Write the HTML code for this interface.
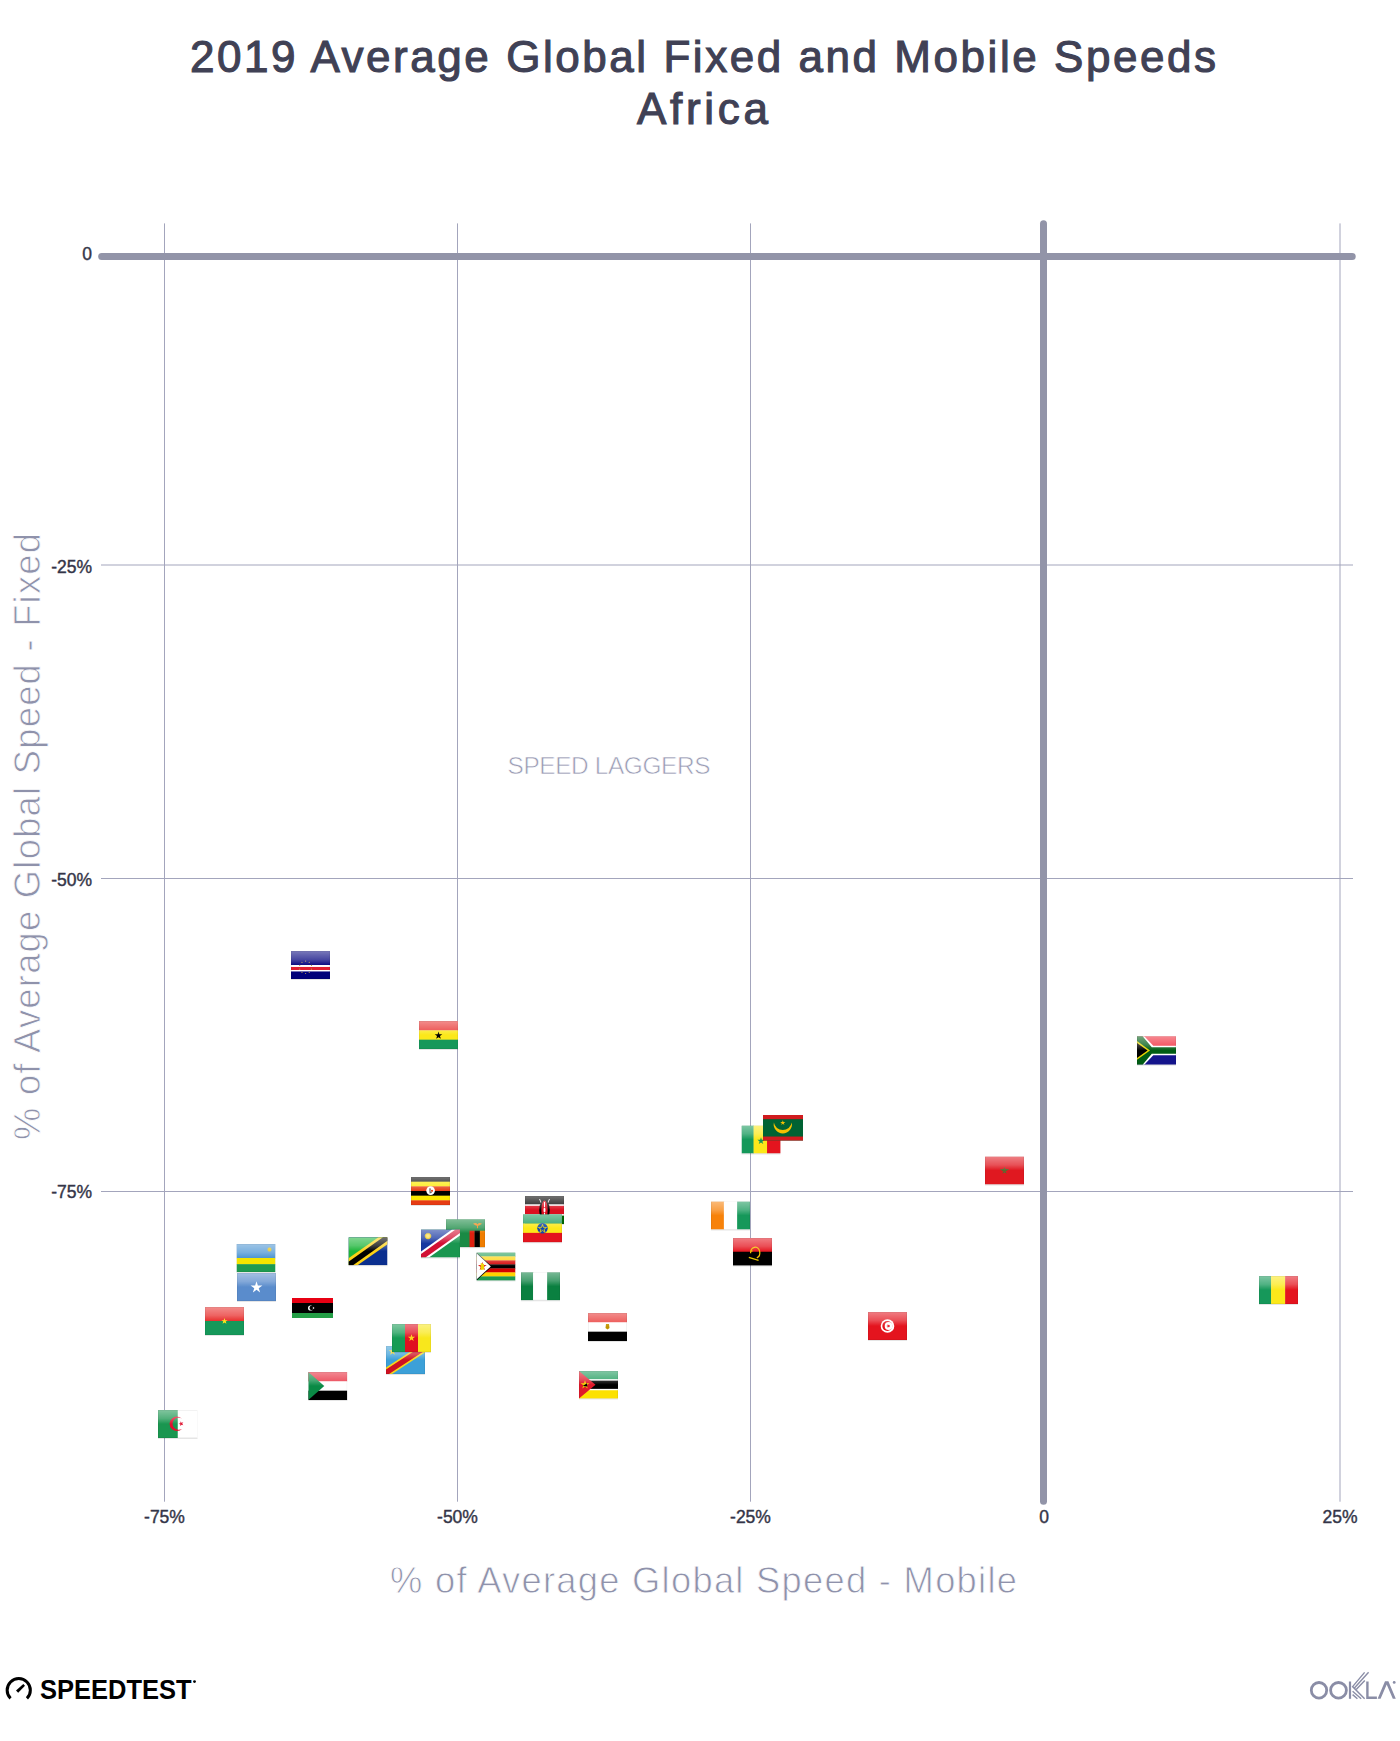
<!DOCTYPE html>
<html><head><meta charset="utf-8">
<style>
html,body{margin:0;padding:0;background:#fff;width:1400px;height:1741px;overflow:hidden}
svg{position:absolute;left:0;top:0}
text{font-family:"Liberation Sans",sans-serif}
</style></head>
<body>
<svg width="1400" height="1741" viewBox="0 0 1400 1741">
<defs>
<linearGradient id="gl" x1="0" y1="0" x2="0" y2="1">
<stop offset="0" stop-color="#fff" stop-opacity="0.45"/>
<stop offset="0.3" stop-color="#fff" stop-opacity="0.25"/>
<stop offset="0.5" stop-color="#fff" stop-opacity="0"/>
<stop offset="1" stop-color="#fff" stop-opacity="0"/>
</linearGradient>
</defs>
<!-- title -->
<text x="190" y="71.6" font-size="44" fill="#404155" textLength="1026" lengthAdjust="spacing" style="stroke:#404155;stroke-width:1.1">2019 Average Global Fixed and Mobile Speeds</text>
<text x="637" y="124" font-size="44" fill="#404155" textLength="131" lengthAdjust="spacing" style="stroke:#404155;stroke-width:1.1">Africa</text>

<!-- grid -->
<g stroke="#a3a5bc" stroke-width="1" fill="none">
<line x1="164.5" y1="223.4" x2="164.5" y2="1501.7"/>
<line x1="457.5" y1="223.4" x2="457.5" y2="1501.7"/>
<line x1="750.5" y1="223.4" x2="750.5" y2="1501.7"/>
<line x1="1340" y1="223.4" x2="1340" y2="1501.7"/>
<line x1="101" y1="565" x2="1353" y2="565"/>
<line x1="101" y1="878.5" x2="1353" y2="878.5"/>
<line x1="101" y1="1191.5" x2="1353" y2="1191.5"/>
</g>
<g stroke="#9294a8" stroke-width="7" stroke-linecap="round">
<line x1="101.7" y1="256.4" x2="1352.2" y2="256.4"/>
<line x1="1043.5" y1="223.7" x2="1043.5" y2="1501.3"/>
</g>

<!-- tick labels -->
<g font-size="17.5" fill="#343548" text-anchor="end" style="stroke:#343548;stroke-width:0.4">
<text x="92" y="260">0</text>
<text x="92" y="572.8">-25%</text>
<text x="92" y="885.8">-50%</text>
<text x="92" y="1198.3">-75%</text>
</g>
<g font-size="17.5" fill="#343548" text-anchor="middle" style="stroke:#343548;stroke-width:0.4">
<text x="164.5" y="1522.7">-75%</text>
<text x="457.5" y="1522.7">-50%</text>
<text x="750.5" y="1522.7">-25%</text>
<text x="1044" y="1522.7">0</text>
<text x="1340" y="1522.7">25%</text>
</g>

<!-- axis titles -->
<text x="390" y="1593.4" font-size="36.3" fill="#8f92ab" textLength="627" lengthAdjust="spacing" style="stroke:#fff;stroke-width:0.8">% of Average Global Speed - Mobile</text>
<text transform="translate(39.8,1140) rotate(-90)" x="0" y="0" font-size="36.3" fill="#8f92ab" textLength="607" lengthAdjust="spacing" style="stroke:#fff;stroke-width:0.8">% of Average Global Speed - Fixed</text>
<text x="507.5" y="774.4" font-size="24.4" fill="#9a9cb4" textLength="203" lengthAdjust="spacing" style="stroke:#fff;stroke-width:0.6">SPEED LAGGERS</text>

<!-- FLAGS -->
<g id="flags">
<rect x="291" y="978.7" width="39" height="1.3" fill="#000" opacity="0.10"/><svg x="291" y="951" width="39" height="28" viewBox="0 0 39 28" preserveAspectRatio="none"><rect x="0" y="0.00" width="39" height="14.30" fill="#0c0c82"/><rect x="0" y="14.00" width="39" height="2.26" fill="#ffffff"/><rect x="0" y="15.96" width="39" height="3.38" fill="#e02030"/><rect x="0" y="19.04" width="39" height="1.70" fill="#ffffff"/><rect x="0" y="20.44" width="39" height="7.86" fill="#00007a"/><circle cx="14.60" cy="22.50" r="0.6" fill="#b8a050"/><circle cx="10.96" cy="21.32" r="0.6" fill="#b8a050"/><circle cx="8.70" cy="18.22" r="0.6" fill="#b8a050"/><circle cx="8.70" cy="14.38" r="0.6" fill="#b8a050"/><circle cx="10.96" cy="11.28" r="0.6" fill="#b8a050"/><circle cx="14.60" cy="10.10" r="0.6" fill="#b8a050"/><circle cx="18.24" cy="11.28" r="0.6" fill="#b8a050"/><circle cx="20.50" cy="14.38" r="0.6" fill="#b8a050"/><circle cx="20.50" cy="18.22" r="0.6" fill="#b8a050"/><circle cx="18.24" cy="21.32" r="0.6" fill="#b8a050"/><rect width="100%" height="100%" fill="url(#gl)"/><rect x="0.25" y="0.25" width="38.5" height="27.5" fill="none" stroke="#000" stroke-opacity="0.10" stroke-width="0.5"/></svg>
<rect x="419" y="1048.7" width="39" height="1.3" fill="#000" opacity="0.10"/><svg x="419" y="1021" width="39" height="28" viewBox="0 0 39 28" preserveAspectRatio="none"><rect x="0" y="0.00" width="39" height="9.63" fill="#e8302e"/><rect x="0" y="9.33" width="39" height="9.63" fill="#fce81a"/><rect x="0" y="18.67" width="39" height="9.63" fill="#16985a"/><polygon points="19.50,10.60 20.40,13.36 23.30,13.36 20.95,15.07 21.85,17.84 19.50,16.13 17.15,17.84 18.05,15.07 15.70,13.36 18.60,13.36" fill="#000"/><rect width="100%" height="100%" fill="url(#gl)"/><rect x="0.25" y="0.25" width="38.5" height="27.5" fill="none" stroke="#000" stroke-opacity="0.10" stroke-width="0.5"/></svg>
<rect x="1137" y="1064.4" width="39" height="1.3" fill="#000" opacity="0.10"/><svg x="1137" y="1036.2" width="39" height="28.5" viewBox="0 0 39 28" preserveAspectRatio="none"><rect width="39" height="14" fill="#f02838"/><rect y="14" width="39" height="14" fill="#14148c"/><path d="M0,0 L7.3,0 L16.3,9.3 L39,9.3 L39,18.7 L16.3,18.7 L7.3,28 L0,28 Z" fill="#fff"/><path d="M0,0 L5.6,0 L14.8,10.8 L39,10.8 L39,17.2 L14.8,17.2 L5.6,28 L0,28 Z" fill="#005c14"/><path d="M0,4.8 L13,14 L0,23.2 Z" fill="#e8d400"/><path d="M0,6.6 L10.6,14 L0,21.4 Z" fill="#000"/><rect width="100%" height="100%" fill="url(#gl)"/><rect x="0.25" y="0.25" width="38.5" height="27.5" fill="none" stroke="#000" stroke-opacity="0.10" stroke-width="0.5"/></svg>
<rect x="741.5" y="1153.2" width="39" height="1.3" fill="#000" opacity="0.10"/><svg x="741.5" y="1125.5" width="39" height="28" viewBox="0 0 39 28" preserveAspectRatio="none"><rect x="0.00" y="0" width="12.39" height="28" fill="#14985a"/><rect x="12.09" y="0" width="13.75" height="28" fill="#fce81a"/><rect x="25.54" y="0" width="13.75" height="28" fill="#e4141e"/><polygon points="19.50,11.70 20.35,14.33 23.11,14.33 20.88,15.95 21.73,18.57 19.50,16.95 17.27,18.57 18.12,15.95 15.89,14.33 18.65,14.33" fill="#14985a"/><rect width="100%" height="100%" fill="url(#gl)"/><rect x="0.25" y="0.25" width="38.5" height="27.5" fill="none" stroke="#000" stroke-opacity="0.10" stroke-width="0.5"/></svg>
<svg x="763" y="1115" width="40" height="25.7" viewBox="0 0 40 26" preserveAspectRatio="none"><rect width="40" height="26" fill="#006233"/><rect width="40" height="4.2" fill="#d01c1f"/><rect y="21.8" width="40" height="4.2" fill="#d01c1f"/><path d="M10.9,7.63 A9.1,9.1 0 1 0 28.7,7.63 A9,9 0 0 1 10.9,7.63 Z" fill="#f4c000"/><polygon points="19.80,5.20 20.41,7.07 22.37,7.07 20.78,8.22 21.39,10.08 19.80,8.93 18.21,10.08 18.82,8.22 17.23,7.07 19.19,7.07" fill="#f4c000"/></svg>
<rect x="985" y="1184.2" width="39" height="1.3" fill="#000" opacity="0.10"/><svg x="985" y="1156.5" width="39" height="28" viewBox="0 0 39 28" preserveAspectRatio="none"><rect width="39" height="28" fill="#e01820"/><polygon points="19.5,11 20.6,16 16.4,13 22.6,13 18.4,16" fill="none" stroke="#5a6a30" stroke-width="1.1"/><rect width="100%" height="100%" fill="url(#gl)"/><rect x="0.25" y="0.25" width="38.5" height="27.5" fill="none" stroke="#000" stroke-opacity="0.10" stroke-width="0.5"/></svg>
<rect x="411" y="1204.7" width="39" height="1.3" fill="#000" opacity="0.10"/><svg x="411" y="1177" width="39" height="28" viewBox="0 0 39 28" preserveAspectRatio="none"><rect x="0" y="0.00" width="39" height="4.97" fill="#000"/><rect x="0" y="4.67" width="39" height="4.97" fill="#fce800"/><rect x="0" y="9.33" width="39" height="4.97" fill="#e63c14"/><rect x="0" y="14.00" width="39" height="4.97" fill="#000"/><rect x="0" y="18.67" width="39" height="4.97" fill="#fce800"/><rect x="0" y="23.33" width="39" height="4.97" fill="#e63c14"/><circle cx="19.6" cy="13.6" r="4.3" fill="#fff"/><path d="M18.2,11.2 l1.8,0.4 l-0.6,2.6 l1.8,1.6 l-2.6,0.6 z" fill="#6a6a6a"/><circle cx="21" cy="13.8" r="1.1" fill="#e63c14"/><rect width="100%" height="100%" fill="url(#gl)"/><rect x="0.25" y="0.25" width="38.5" height="27.5" fill="none" stroke="#000" stroke-opacity="0.10" stroke-width="0.5"/></svg>
<rect x="525" y="1223.7" width="39" height="1.3" fill="#000" opacity="0.10"/><svg x="525" y="1196" width="39" height="28" viewBox="0 0 39 28" preserveAspectRatio="none"><rect x="0" y="0.00" width="39" height="8.70" fill="#000"/><rect x="0" y="8.40" width="39" height="1.70" fill="#fff"/><rect x="0" y="9.80" width="39" height="8.70" fill="#dc1020"/><rect x="0" y="18.20" width="39" height="1.70" fill="#fff"/><rect x="0" y="19.60" width="39" height="8.70" fill="#006600"/><path d="M14.5,3 L24.5,25" stroke="#fff" stroke-width="0.9"/><path d="M24.5,3 L14.5,25" stroke="#fff" stroke-width="0.9"/><ellipse cx="19.5" cy="14" rx="5.3" ry="9.8" fill="#000"/><ellipse cx="19.5" cy="14" rx="3.2" ry="9.6" fill="#dc1020"/><ellipse cx="19.5" cy="14" rx="1" ry="2.6" fill="#fff"/><rect x="19" y="6" width="1" height="5" fill="#fff"/><rect x="19" y="17" width="1" height="5" fill="#fff"/><rect width="100%" height="100%" fill="url(#gl)"/><rect x="0.25" y="0.25" width="38.5" height="27.5" fill="none" stroke="#000" stroke-opacity="0.10" stroke-width="0.5"/></svg>
<rect x="523" y="1241.9" width="39" height="1.3" fill="#000" opacity="0.10"/><svg x="523" y="1214.2" width="39" height="28" viewBox="0 0 39 28" preserveAspectRatio="none"><rect x="0" y="0.00" width="39" height="9.63" fill="#16985a"/><rect x="0" y="9.33" width="39" height="9.63" fill="#fce81a"/><rect x="0" y="18.67" width="39" height="9.63" fill="#e4141e"/><circle cx="19.5" cy="14" r="5.2" fill="#0f47af"/><polygon points="19.50,10.70 20.31,13.19 22.92,13.19 20.81,14.72 21.62,17.21 19.50,15.68 17.38,17.21 18.19,14.72 16.08,13.19 18.69,13.19" fill="none"/><polygon points="19.5,10.2 20.5,13.2 23.6,13.2 21.1,15.1 22,18.1 19.5,16.2 17,18.1 17.9,15.1 15.4,13.2 18.5,13.2" fill="none" stroke="#fcdd09" stroke-width="0.8"/><rect width="100%" height="100%" fill="url(#gl)"/><rect x="0.25" y="0.25" width="38.5" height="27.5" fill="none" stroke="#000" stroke-opacity="0.10" stroke-width="0.5"/></svg>
<rect x="711" y="1229.2" width="39" height="1.3" fill="#000" opacity="0.10"/><svg x="711" y="1201.5" width="39" height="28" viewBox="0 0 39 28" preserveAspectRatio="none"><rect x="0.00" y="0" width="13.17" height="28" fill="#f7820a"/><rect x="12.87" y="0" width="13.56" height="28" fill="#ffffff"/><rect x="26.13" y="0" width="13.17" height="28" fill="#16985a"/><rect width="100%" height="100%" fill="url(#gl)"/><rect x="0.25" y="0.25" width="38.5" height="27.5" fill="none" stroke="#000" stroke-opacity="0.10" stroke-width="0.5"/></svg>
<rect x="446" y="1246.9" width="39" height="1.3" fill="#000" opacity="0.10"/><svg x="446" y="1219.2" width="39" height="28" viewBox="0 0 39 28" preserveAspectRatio="none"><rect width="39" height="28" fill="#1a8a44"/><rect x="23.5" y="11.5" width="5.2" height="16.5" fill="#de2010"/><rect x="28.7" y="11.5" width="5.2" height="16.5" fill="#000"/><rect x="33.9" y="11.5" width="5.1" height="16.5" fill="#ef7d00"/><path d="M27,4.5 Q30,3 31.5,5 Q33,3 36,4.5 Q33.5,6.5 31.5,6.8 Q29.5,6.5 27,4.5Z" fill="#ef7d00"/><rect x="31" y="6" width="1" height="3" fill="#ef7d00"/><rect width="100%" height="100%" fill="url(#gl)"/><rect x="0.25" y="0.25" width="38.5" height="27.5" fill="none" stroke="#000" stroke-opacity="0.10" stroke-width="0.5"/></svg>
<rect x="421" y="1257.2" width="39" height="1.3" fill="#000" opacity="0.10"/><svg x="421" y="1229.5" width="39" height="28" viewBox="0 0 39 28" preserveAspectRatio="none"><rect width="39" height="28" fill="#1a9650"/><path d="M0,0 L39,0 L0,28 Z" fill="#1838a0"/><path d="M0,28 L0,22 L31,0 L39,0 L39,6 L8,28 Z" fill="#fff"/><path d="M0,28 L0,24.5 L34.5,0 L39,0 L39,3.5 L4.5,28 Z" fill="#d21034"/><circle cx="7" cy="6.6" r="2.9" fill="#ffce00" stroke="#ffce00" stroke-width="0.8" stroke-dasharray="0.7 0.6"/><circle cx="7" cy="6.6" r="1.9" fill="#f8e060"/><rect width="100%" height="100%" fill="url(#gl)"/><rect x="0.25" y="0.25" width="38.5" height="27.5" fill="none" stroke="#000" stroke-opacity="0.10" stroke-width="0.5"/></svg>
<rect x="348.5" y="1264.9" width="39" height="1.3" fill="#000" opacity="0.10"/><svg x="348.5" y="1237.2" width="39" height="28" viewBox="0 0 39 28" preserveAspectRatio="none"><rect width="39" height="28" fill="#0b2f8f"/><path d="M0,0 L39,0 L0,28 Z" fill="#1eb53a"/><path d="M0,28 L0,21 L30,0 L39,0 L39,7 L9,28 Z" fill="#fcd116"/><path d="M0,28 L0,24.5 L34.5,0 L39,0 L39,3.5 L4.5,28 Z" fill="#000"/><rect width="100%" height="100%" fill="url(#gl)"/><rect x="0.25" y="0.25" width="38.5" height="27.5" fill="none" stroke="#000" stroke-opacity="0.10" stroke-width="0.5"/></svg>
<rect x="236.5" y="1271.7" width="39" height="1.3" fill="#000" opacity="0.10"/><svg x="236.5" y="1244" width="39" height="28" viewBox="0 0 39 28" preserveAspectRatio="none"><rect x="0" y="0.00" width="39" height="14.30" fill="#4d95d3"/><rect x="0" y="14.00" width="39" height="6.46" fill="#f4e400"/><rect x="0" y="20.16" width="39" height="8.14" fill="#1e9a50"/><polygon points="33.00,2.70 33.63,4.63 35.66,4.63 34.02,5.83 34.65,7.77 33.00,6.57 31.35,7.77 31.98,5.83 30.34,4.63 32.37,4.63" fill="#e5be01"/><polygon points="34.65,3.23 34.02,5.17 35.66,6.37 33.63,6.37 33.00,8.30 32.37,6.37 30.34,6.37 31.98,5.17 31.35,3.23 33.00,4.43" fill="#e5be01"/><circle cx="33" cy="5.5" r="1.6" fill="#e5be01"/><rect width="100%" height="100%" fill="url(#gl)"/><rect x="0.25" y="0.25" width="38.5" height="27.5" fill="none" stroke="#000" stroke-opacity="0.10" stroke-width="0.5"/></svg>
<rect x="733" y="1265.2" width="39" height="1.3" fill="#000" opacity="0.10"/><svg x="733" y="1238" width="39" height="27.5" viewBox="0 0 39 28" preserveAspectRatio="none"><rect x="0" y="0.00" width="39" height="14.30" fill="#e4141e"/><rect x="0" y="14.00" width="39" height="14.30" fill="#000"/><path d="M17.6,15.5 A4.6,5.6 0 1 1 23.8,20.2" fill="none" stroke="#f0c000" stroke-width="1.3"/><path d="M15.8,19.8 L25.6,22.8" stroke="#e8c800" stroke-width="1.3"/><polygon points="18.60,11.60 18.96,12.71 20.12,12.71 19.18,13.39 19.54,14.49 18.60,13.81 17.66,14.49 18.02,13.39 17.08,12.71 18.24,12.71" fill="#f0c000"/><rect width="100%" height="100%" fill="url(#gl)"/><rect x="0.25" y="0.25" width="38.5" height="27.5" fill="none" stroke="#000" stroke-opacity="0.10" stroke-width="0.5"/></svg>
<rect x="476.5" y="1280.1000000000001" width="39" height="1.3" fill="#000" opacity="0.10"/><svg x="476.5" y="1252.4" width="39" height="28" viewBox="0 0 39 28" preserveAspectRatio="none"><rect x="0" y="0.00" width="39" height="4.30" fill="#1e9a50"/><rect x="0" y="4.00" width="39" height="4.30" fill="#ffd200"/><rect x="0" y="8.00" width="39" height="4.30" fill="#d40000"/><rect x="0" y="12.00" width="39" height="4.30" fill="#000"/><rect x="0" y="16.00" width="39" height="4.30" fill="#d40000"/><rect x="0" y="20.00" width="39" height="4.30" fill="#ffd200"/><rect x="0" y="24.00" width="39" height="4.30" fill="#1e9a50"/><path d="M0,0 L15.5,14 L0,28 Z" fill="#000"/><path d="M0,0.9 L14.3,14 L0,27.1 Z" fill="#fff"/><polygon points="5.80,9.40 6.83,12.58 10.17,12.58 7.47,14.54 8.50,17.72 5.80,15.76 3.10,17.72 4.13,14.54 1.43,12.58 4.77,12.58" fill="#e02020"/><path d="M4.2,10.5 L7.5,11.5 L7.5,17 L4.2,17.5 Z" fill="#f0d000"/><rect width="100%" height="100%" fill="url(#gl)"/><rect x="0.25" y="0.25" width="38.5" height="27.5" fill="none" stroke="#000" stroke-opacity="0.10" stroke-width="0.5"/></svg>
<rect x="521" y="1300.0" width="39" height="1.3" fill="#000" opacity="0.10"/><svg x="521" y="1272.3" width="39" height="28" viewBox="0 0 39 28" preserveAspectRatio="none"><rect x="0.00" y="0" width="12.39" height="28" fill="#0a8040"/><rect x="12.09" y="0" width="14.34" height="28" fill="#ffffff"/><rect x="26.13" y="0" width="13.17" height="28" fill="#0a8040"/><rect width="100%" height="100%" fill="url(#gl)"/><rect x="0.25" y="0.25" width="38.5" height="27.5" fill="none" stroke="#000" stroke-opacity="0.10" stroke-width="0.5"/></svg>
<rect x="237" y="1300.7" width="39" height="1.3" fill="#000" opacity="0.10"/><svg x="237" y="1273" width="39" height="28" viewBox="0 0 39 28" preserveAspectRatio="none"><rect width="39" height="28" fill="#5a8ccc"/><polygon points="19.50,8.30 20.89,12.58 25.40,12.58 21.75,15.23 23.14,19.52 19.50,16.87 15.86,19.52 17.25,15.23 13.60,12.58 18.11,12.58" fill="#fff"/><rect width="100%" height="100%" fill="url(#gl)"/><rect x="0.25" y="0.25" width="38.5" height="27.5" fill="none" stroke="#000" stroke-opacity="0.10" stroke-width="0.5"/></svg>
<rect x="1259" y="1303.7" width="39" height="1.3" fill="#000" opacity="0.10"/><svg x="1259" y="1276" width="39" height="28" viewBox="0 0 39 28" preserveAspectRatio="none"><rect x="0.00" y="0" width="12.39" height="28" fill="#16985a"/><rect x="12.09" y="0" width="14.34" height="28" fill="#fce81a"/><rect x="26.13" y="0" width="13.17" height="28" fill="#e4141e"/><rect width="100%" height="100%" fill="url(#gl)"/><rect x="0.25" y="0.25" width="38.5" height="27.5" fill="none" stroke="#000" stroke-opacity="0.10" stroke-width="0.5"/></svg>
<svg x="292" y="1298" width="41" height="20" viewBox="0 0 41 20" preserveAspectRatio="none"><rect x="0" y="0.00" width="41" height="5.30" fill="#e70013"/><rect x="0" y="5.00" width="41" height="10.30" fill="#000"/><rect x="0" y="15.00" width="41" height="5.30" fill="#239e46"/><circle cx="18.6" cy="10" r="2.6" fill="#fff"/><circle cx="19.6" cy="10" r="2.15" fill="#000"/><polygon points="21.00,8.76 21.55,9.53 22.45,9.24 21.90,10.00 22.45,10.76 21.55,10.47 21.00,11.24 21.00,10.29 20.10,10.00 21.00,9.71" fill="#fff"/></svg>
<rect x="205" y="1334.7" width="39" height="1.3" fill="#000" opacity="0.10"/><svg x="205" y="1307" width="39" height="28" viewBox="0 0 39 28" preserveAspectRatio="none"><rect x="0" y="0.00" width="39" height="14.30" fill="#e8302e"/><rect x="0" y="14.00" width="39" height="14.30" fill="#16985a"/><polygon points="19.50,10.90 20.24,13.18 22.64,13.18 20.70,14.59 21.44,16.87 19.50,15.46 17.56,16.87 18.30,14.59 16.36,13.18 18.76,13.18" fill="#fce81a"/><rect width="100%" height="100%" fill="url(#gl)"/><rect x="0.25" y="0.25" width="38.5" height="27.5" fill="none" stroke="#000" stroke-opacity="0.10" stroke-width="0.5"/></svg>
<rect x="588" y="1340.7" width="39" height="1.3" fill="#000" opacity="0.10"/><svg x="588" y="1313" width="39" height="28" viewBox="0 0 39 28" preserveAspectRatio="none"><rect x="0" y="0.00" width="39" height="9.63" fill="#e8302e"/><rect x="0" y="9.33" width="39" height="9.63" fill="#ffffff"/><rect x="0" y="18.67" width="39" height="9.63" fill="#000"/><path d="M18,11 L21,11 L21.5,15 L19.5,16.5 L17.5,15 Z" fill="#c09300"/><rect width="100%" height="100%" fill="url(#gl)"/><rect x="0.25" y="0.25" width="38.5" height="27.5" fill="none" stroke="#000" stroke-opacity="0.10" stroke-width="0.5"/></svg>
<rect x="868" y="1339.7" width="39" height="1.3" fill="#000" opacity="0.10"/><svg x="868" y="1312" width="39" height="28" viewBox="0 0 39 28" preserveAspectRatio="none"><rect width="39" height="28" fill="#e4141e"/><circle cx="19.5" cy="14" r="6.8" fill="#fff"/><circle cx="19.3" cy="14" r="5.0" fill="#e4141e"/><circle cx="20.6" cy="14" r="3.9" fill="#fff"/><polygon points="19.72,11.91 20.66,13.20 22.18,12.71 21.24,14.00 22.18,15.29 20.66,14.80 19.72,16.09 19.72,14.49 18.20,14.00 19.72,13.51" fill="#e4141e"/><rect width="100%" height="100%" fill="url(#gl)"/><rect x="0.25" y="0.25" width="38.5" height="27.5" fill="none" stroke="#000" stroke-opacity="0.10" stroke-width="0.5"/></svg>
<rect x="386" y="1373.7" width="39" height="1.3" fill="#000" opacity="0.10"/><svg x="386" y="1346" width="39" height="28" viewBox="0 0 39 28" preserveAspectRatio="none"><rect width="39" height="28" fill="#3ca0d8"/><path d="M0,28 L0,21.5 L33,0 L39,0 L39,6.5 L6,28 Z" fill="#f7d618"/><path d="M0,28 L0,23.5 L36,0 L39,0 L39,4.5 L3,28 Z" fill="#ce1021"/><polygon points="6.50,1.50 7.40,4.26 10.30,4.26 7.95,5.97 8.85,8.74 6.50,7.03 4.15,8.74 5.05,5.97 2.70,4.26 5.60,4.26" fill="#f7d618"/><rect width="100%" height="100%" fill="url(#gl)"/><rect x="0.25" y="0.25" width="38.5" height="27.5" fill="none" stroke="#000" stroke-opacity="0.10" stroke-width="0.5"/></svg>
<rect x="392" y="1351.7" width="39" height="1.3" fill="#000" opacity="0.10"/><svg x="392" y="1324" width="39" height="28" viewBox="0 0 39 28" preserveAspectRatio="none"><rect x="0.00" y="0" width="13.30" height="28" fill="#169b55"/><rect x="13.00" y="0" width="13.30" height="28" fill="#e01020"/><rect x="26.00" y="0" width="13.30" height="28" fill="#f8e71c"/><polygon points="19.50,10.20 20.35,12.83 23.11,12.83 20.88,14.45 21.73,17.07 19.50,15.45 17.27,17.07 18.12,14.45 15.89,12.83 18.65,12.83" fill="#fcd116"/><rect width="100%" height="100%" fill="url(#gl)"/><rect x="0.25" y="0.25" width="38.5" height="27.5" fill="none" stroke="#000" stroke-opacity="0.10" stroke-width="0.5"/></svg>
<rect x="308.3" y="1399.7" width="39" height="1.3" fill="#000" opacity="0.10"/><svg x="308.3" y="1372" width="39" height="28" viewBox="0 0 39 28" preserveAspectRatio="none"><rect x="0" y="0.00" width="39" height="9.63" fill="#e8283a"/><rect x="0" y="9.33" width="39" height="9.63" fill="#ffffff"/><rect x="0" y="18.67" width="39" height="9.63" fill="#000"/><path d="M0,0 L16,14 L0,28 Z" fill="#0a8a45"/><rect width="100%" height="100%" fill="url(#gl)"/><rect x="0.25" y="0.25" width="38.5" height="27.5" fill="none" stroke="#000" stroke-opacity="0.10" stroke-width="0.5"/></svg>
<rect x="579" y="1398.2" width="39" height="1.3" fill="#000" opacity="0.10"/><svg x="579" y="1371" width="39" height="27.5" viewBox="0 0 39 28" preserveAspectRatio="none"><rect x="0" y="0.00" width="39" height="8.70" fill="#1a9a5a"/><rect x="0" y="8.40" width="39" height="1.70" fill="#fff"/><rect x="0" y="9.80" width="39" height="8.70" fill="#000"/><rect x="0" y="18.20" width="39" height="1.70" fill="#fff"/><rect x="0" y="19.60" width="39" height="8.70" fill="#fce100"/><path d="M0,0 L16.5,14 L0,28 Z" fill="#e0182a"/><polygon points="6.00,9.40 7.03,12.58 10.37,12.58 7.67,14.54 8.70,17.72 6.00,15.76 3.30,17.72 4.33,14.54 1.63,12.58 4.97,12.58" fill="#f0d000"/><path d="M3.8,15.2 L8,12.5 L8.2,15.8 Z" fill="#000"/><rect width="100%" height="100%" fill="url(#gl)"/><rect x="0.25" y="0.25" width="38.5" height="27.5" fill="none" stroke="#000" stroke-opacity="0.10" stroke-width="0.5"/></svg>
<rect x="158" y="1437.7" width="39.5" height="1.3" fill="#000" opacity="0.10"/><svg x="158" y="1410" width="39.5" height="28" viewBox="0 0 39 28" preserveAspectRatio="none"><rect x="0.00" y="0" width="19.80" height="28" fill="#1a9650"/><rect x="19.50" y="0" width="19.80" height="28" fill="#ffffff"/><path d="M23.9,8.93 A7.2,7.2 0 1 0 23.9,18.67 A6,6 0 1 1 23.9,8.93 Z" fill="#e0102e"/><polygon points="22.10,11.33 23.21,12.86 25.00,12.27 23.89,13.80 25.00,15.33 23.21,14.74 22.10,16.27 22.10,14.38 20.30,13.80 22.10,13.22" fill="#e0102e"/><rect width="100%" height="100%" fill="url(#gl)"/><rect x="0.25" y="0.25" width="38.5" height="27.5" fill="none" stroke="#000" stroke-opacity="0.10" stroke-width="0.5"/></svg>
</g>

<!-- footer -->
<g id="footer">
<path d="M10.55,1698.40 A11.6,11.6 0 1 1 26.95,1698.40" fill="none" stroke="#000" stroke-width="3"/>
<path d="M16.0,1690.6 L23.3,1683.9 L25.0,1685.7 L18.2,1692.7 Z" fill="#000"/>
<text x="40" y="1698.5" font-size="27" font-weight="bold" fill="#000" textLength="151.6" lengthAdjust="spacingAndGlyphs">SPEEDTEST</text>
<circle cx="194.5" cy="1681.6" r="1.4" fill="#000"/>
<ellipse cx="1319" cy="1690.3" rx="7.7" ry="7.8" fill="none" stroke="#8a8da6" stroke-width="2.8"/>
<ellipse cx="1338.5" cy="1690.3" rx="7.9" ry="7.8" fill="none" stroke="#8a8da6" stroke-width="2.8"/>
<rect x="1348.9" y="1681.5" width="2.2" height="17.3" fill="#8a8da6"/>
<g stroke="#8a8da6" stroke-width="1.4" fill="none" stroke-linecap="butt"><path d="M1364.6,1672.4 L1352.6,1686.6 L1364.6,1698.8"/><path d="M1368.6,1672.2 L1354.4,1688.0"/><path d="M1364.8,1680.4 L1356.2,1689.6"/><path d="M1352.6,1691.2 L1361.2,1698.8"/><path d="M1352.6,1694.6 L1357.4,1698.8"/></g>
<path d="M1367.4,1681.5 L1367.4,1697.7 L1376.9,1697.7" fill="none" stroke="#8a8da6" stroke-width="2.4"/>
<path d="M1377.6,1698.8 L1385.0,1681.2 L1388.4,1681.2 L1395.8,1698.8 L1392.8,1698.8 L1386.7,1684.6 L1380.6,1698.8 Z" fill="#8a8da6"/>
<circle cx="1394.2" cy="1682.4" r="1.4" fill="#8a8da6"/>
</g>
</svg>
</body></html>
